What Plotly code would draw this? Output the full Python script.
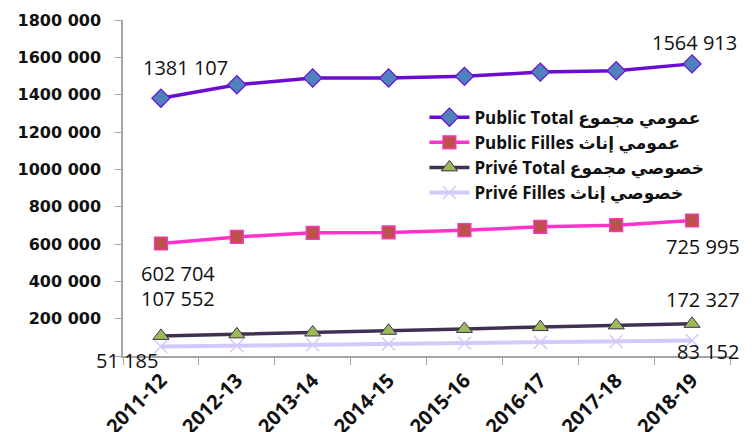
import plotly.graph_objects as go

categories = ["2011-12", "2012-13", "2013-14", "2014-15", "2015-16", "2016-17", "2017-18", "2018-19"]
public_total = [1381107, 1453000, 1489000, 1489000, 1498000, 1521000, 1528000, 1564913]
public_filles = [602704, 638000, 660000, 662000, 674000, 692000, 701000, 725995]
prive_total = [107552, 116000, 126000, 135000, 145000, 155000, 164000, 172327]
prive_filles = [51185, 55000, 60000, 64000, 68000, 73000, 78000, 83152]
series_names = [
    "Public Total عمومي مجموع",
    "Public Filles عمومي إناث",
    "Privé Total خصوصي مجموع",
    "Privé Filles خصوصي إناث",
]
y_tickvals = [0, 200000, 400000, 600000, 800000, 1000000, 1200000, 1400000, 1600000, 1800000]
y_ticktext = ["", "200 000", "400 000", "600 000", "800 000", "1000 000", "1200 000", "1400 000", "1600 000", "1800 000"]

def fmt(v):
    return f"{v // 1000} {v % 1000:03d}"

fig = go.Figure()
fig.add_trace(go.Scatter(
    x=categories, y=public_total, name=series_names[0], mode="lines+markers",
    line=dict(color="#6A0DD2", width=3.5),
    marker=dict(symbol="diamond", size=14, color="#4F81BD", line=dict(color="#6A0DD2", width=1.2)),
))
fig.add_trace(go.Scatter(
    x=categories, y=public_filles, name=series_names[1], mode="lines+markers",
    line=dict(color="#FF33CC", width=3.5),
    marker=dict(symbol="square", size=13, color="#C0504D", line=dict(color="#FF33CC", width=1.2)),
))
fig.add_trace(go.Scatter(
    x=categories, y=prive_total, name=series_names[2], mode="lines+markers",
    line=dict(color="#403152", width=3.5),
    marker=dict(symbol="triangle-up", size=14, color="#9BBB59", line=dict(color="#403152", width=1)),
))
fig.add_trace(go.Scatter(
    x=categories, y=prive_filles, name=series_names[3], mode="lines+markers",
    line=dict(color="#D5C8FA", width=4),
    marker=dict(symbol="x-thin", size=13, color="#D5C8FA", line=dict(color="#D5C8FA", width=1.5)),
))

label_font = dict(family="Open Sans, DejaVu Sans", size=20, color="#111111")
labels = [
    (categories[0], public_total[0], 25, 31),
    (categories[-1], public_total[-1], 2, 21),
    (categories[0], public_filles[0], 17, -30),
    (categories[-1], public_filles[-1], 11, -26),
    (categories[0], prive_total[0], 17, 37),
    (categories[-1], prive_total[-1], 11, 24),
    (categories[0], prive_filles[0], -34, -14),
    (categories[-1], prive_filles[-1], 16, -11),
]
for x, y, dx, dy in labels:
    fig.add_annotation(x=x, y=y, text=fmt(y), showarrow=False, xshift=dx, yshift=dy,
                       font=label_font, xanchor="center", yanchor="middle")

fig.update_layout(
    width=747, height=424,
    margin=dict(l=115, r=25, t=12, b=76, autoexpand=False),
    paper_bgcolor="white", plot_bgcolor="white",
    showlegend=True,
    legend=dict(x=0.4966, y=0.763, xanchor="left", yanchor="top",
                font=dict(family="Open Sans, DejaVu Sans", size=17, color="#111111", weight="bold"),
                bgcolor="rgba(0,0,0,0)", tracegroupgap=0, itemwidth=40),
    font=dict(family="Open Sans, DejaVu Sans"),
)
fig.update_xaxes(
    type="category", showline=True, linecolor="#A6A6A6", linewidth=1.5,
    ticks="outside", ticklen=7, tickcolor="#A6A6A6", tickson="boundaries",
    showgrid=False, tickangle=-45, automargin=False,
    tickfont=dict(family="Open Sans", size=20, color="#111111", weight="bold"),
    ticklabelstandoff=3,
    range=[-0.5, 7.5],
)
fig.update_yaxes(
    range=[0, 1800000], tickvals=y_tickvals, ticktext=y_ticktext,
    showline=True, linecolor="#A6A6A6", linewidth=1.5, automargin=False,
    ticks="outside", ticklen=6, tickcolor="#A6A6A6", showgrid=False, zeroline=False,
    tickfont=dict(family="DejaVu Sans", size=16, color="#111111", weight="bold"),
    ticklabelstandoff=11,
)

fig.write_html("out.html")
